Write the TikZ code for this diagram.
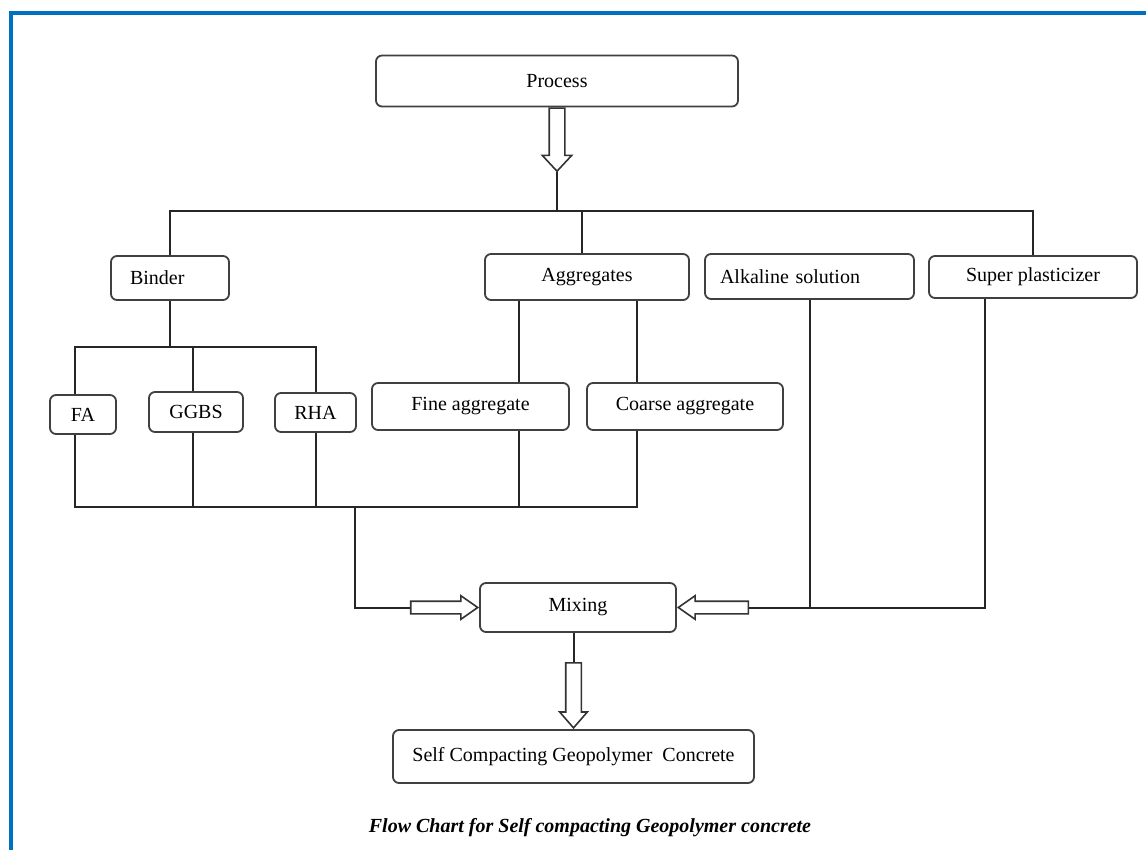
\documentclass[tikz,border=0pt]{standalone}
\usepackage{fontspec}
\setmainfont{Liberation Serif}
\usepackage{xcolor}
\usetikzlibrary{positioning, shapes.arrows}
\definecolor{frameblue}{RGB}{0,112,192}

\begin{document}
\begin{tikzpicture}[x=0.5pt, y=-0.5pt, every node/.style={font=\fontsize{10}{12}\selectfont}]

  \tikzstyle{module}=[rounded corners=3pt, draw=black!75, line width=0.9pt, fill=white, inner sep=0pt, align=center]
  \tikzstyle{leftmodule}=[module, align=left, text width=#1]
  \tikzstyle{bigarrow}=[single arrow, draw=black!80, fill=white, line width=0.8pt, inner xsep=0pt]
  \tikzstyle{wire}=[black!85, line width=1pt]

  \useasboundingbox (0,0) rectangle (1146,850);
  \draw [frameblue, line width=2pt] (11,850) -- (11,13) -- (1146,13);

  \node [module, minimum width=181pt, minimum height=25.5pt] (process) at (557,81) {Process};

  \node [leftmodule=40pt, inner xsep=9.5pt, minimum height=22pt] (binder) at (170,278) {Binder};
  \node [module, minimum width=102pt, minimum height=23pt] (aggr) at (587,277) {Aggregates};
  \node [leftmodule=89.5pt, inner xsep=7.5pt, minimum height=22.5pt] (alkali) at (809.5,276.5) {Alkaline solution};
  \node [module, minimum width=104pt, minimum height=21pt] (superp) at (1033,277) {Super plasticizer};

  \node [module, minimum width=33pt, minimum height=19.5pt] (FA) at (83,414.5) {FA};
  \node [module, minimum width=47pt, minimum height=20pt] (GGBS) at (196,412) {GGBS};
  \node [module, minimum width=40.5pt, minimum height=19.5pt] (RHA) at (315.5,412.5) {RHA};
  \node [module, minimum width=98.5pt, minimum height=23.5pt] (fine) at (470.5,406.5) {Fine aggregate};
  \node [module, minimum width=98pt, minimum height=23.5pt] (coarse) at (685,406.5) {Coarse aggregate};

  \node [module, minimum width=98pt, minimum height=24.5pt] (mix) at (578,607.5) {Mixing};
  \node [module, minimum width=180.5pt, minimum height=26.5pt] (scgc) at (573.5,756.5) {Self Compacting Geopolymer\ \ Concrete};

  \node [font=\fontsize{10}{12}\selectfont\bfseries\itshape] (caption) at (590,828) {Flow Chart for Self compacting Geopolymer concrete};

  % block arrows
  \node [bigarrow, rotate=-90, anchor=tail, minimum height=31.5pt, inner ysep=3.5pt, single arrow head extend=3.5pt, single arrow tip angle=86] (arr-P) at (process.south) {};
  \node [bigarrow, rotate=0, anchor=tip, minimum height=33.5pt, inner ysep=2.75pt, single arrow head extend=2.75pt, single arrow tip angle=70] (arr-L) at (mix.west) {};
  \node [bigarrow, rotate=180, anchor=tip, minimum height=35pt, inner ysep=2.75pt, single arrow head extend=2.75pt, single arrow tip angle=70] (arr-R) at (mix.east) {};
  \node [bigarrow, rotate=-90, anchor=tip, minimum height=32.5pt, inner ysep=3.5pt, single arrow head extend=3pt, single arrow tip angle=82] (arr-D) at (scgc.north) {};

  \coordinate (bus) at (557,211);
  \coordinate (bbus) at (170,347);
  \coordinate (lbus) at (355,507);

  \draw [wire] (arr-P.tip) -- (bus);
  \draw [wire] (binder.north) |- (bus) -| (superp.north);
  \draw [wire] ([xshift=-2.5pt]aggr.north) -- ([xshift=-2.5pt]aggr.north |- bus);

  \draw [wire] (binder.south) -- (bbus);
  \draw [wire] ([xshift=-4pt]FA.north) |- (bbus) -| (RHA.north);
  \draw [wire] ([xshift=-1.5pt]GGBS.north) -- ([xshift=-1.5pt]GGBS.north |- bbus);

  \draw [wire] ([xshift=24pt]fine.north) -- ([xshift=24pt]fine.north |- aggr.south);
  \draw [wire] ([xshift=-24pt]coarse.north) -- ([xshift=-24pt]coarse.north |- aggr.south);

  \draw [wire] ([xshift=-4pt]FA.south) |- (lbus) -| ([xshift=-24pt]coarse.south);
  \draw [wire] ([xshift=-1.5pt]GGBS.south) -- ([xshift=-1.5pt]GGBS.south |- lbus);
  \draw [wire] (RHA.south) -- (RHA.south |- lbus);
  \draw [wire] ([xshift=24pt]fine.south) -- ([xshift=24pt]fine.south |- lbus);

  \draw [wire] (lbus) |- (arr-L.tail);
  \draw [wire] ([xshift=-24pt]superp.south) |- (arr-R.tail);
  \draw [wire] (alkali.south) -- (alkali.south |- arr-R.tail);
  \draw [wire] (arr-D.tail |- mix.south) -- (arr-D.tail);

\end{tikzpicture}
\end{document}
